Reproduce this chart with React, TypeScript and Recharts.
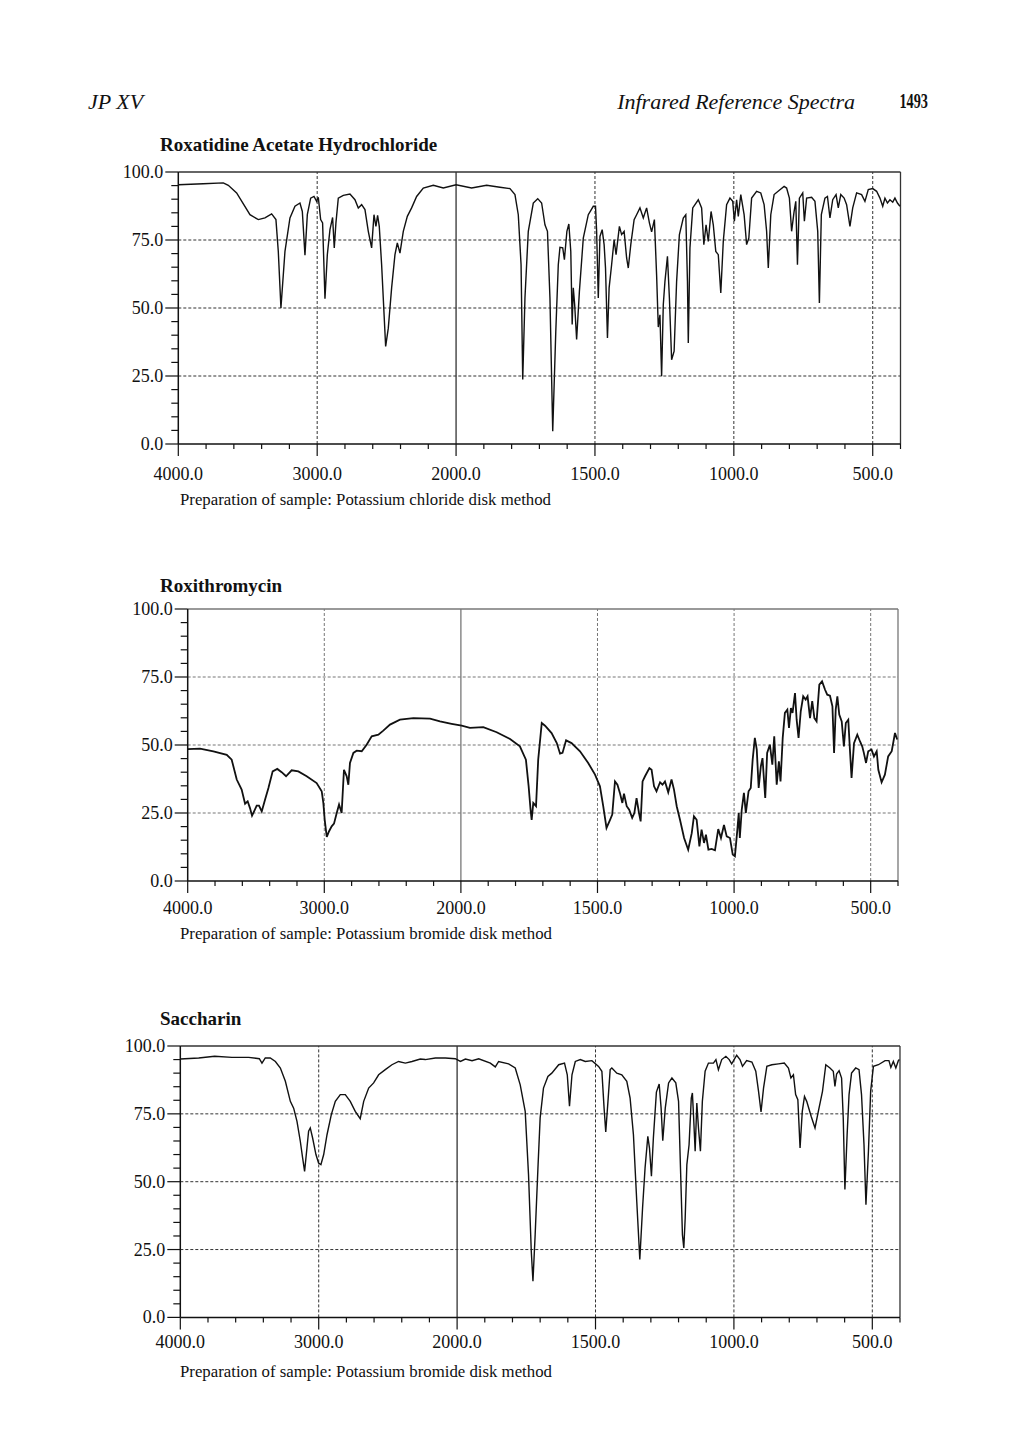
import { LineChart, Line, XAxis, YAxis, ReferenceLine } from 'recharts'

// wavenumber axis: 4000-2000 at half the scale of 2000-400
const toPos = (wn: number) => (wn >= 2000 ? (4000 - wn) / 2 : 1000 + (2000 - wn))
const fromPos = (p: number) => (p <= 1000 ? 4000 - 2 * p : 2000 - (p - 1000))

const xLabels = [4000, 3000, 2000, 1500, 1000, 500]
const xTicks = [
  4000, 3800, 3600, 3400, 3200, 3000, 2800, 2600, 2400, 2200, 2000, 1900, 1800, 1700, 1600, 1500,
  1400, 1300, 1200, 1100, 1000, 900, 800, 700, 600, 500, 400,
]
const yLabels = [0, 25, 50, 75, 100]
const yTicks = [0, 5, 10, 15, 20, 25, 30, 35, 40, 45, 50, 55, 60, 65, 70, 75, 80, 85, 90, 95, 100]
const dashedX = [3000, 1500, 1000, 500]
const dashedY = [25, 50, 75]

const roxatidineWn = [
  4000, 3820, 3676, 3640, 3580, 3484, 3424, 3376, 3328, 3297, 3280, 3261, 3232, 3196, 3160, 3124,
  3107, 3088, 3071, 3047, 3023, 3004, 2992, 2975, 2961, 2944, 2927, 2908, 2889, 2877, 2865, 2848,
  2812, 2764, 2728, 2704, 2680, 2656, 2632, 2608, 2591, 2577, 2565, 2553, 2536, 2507, 2488, 2464,
  2440, 2423, 2404, 2380, 2351, 2320, 2284, 2236, 2164, 2092, 2000, 1944, 1890, 1842, 1806, 1788,
  1776, 1766, 1760, 1752, 1740, 1722, 1706, 1692, 1680, 1671, 1662, 1652, 1641, 1632, 1626, 1616,
  1610, 1601, 1594, 1587, 1582, 1578, 1573, 1566, 1556, 1542, 1524, 1506, 1498, 1494, 1488, 1482,
  1474, 1467, 1462, 1455, 1449, 1440, 1431, 1424, 1412, 1404, 1395, 1386, 1380, 1371, 1359, 1350,
  1338, 1326, 1314, 1304, 1296, 1286, 1278, 1272, 1266, 1260, 1254, 1248, 1239, 1232, 1224, 1215,
  1206, 1196, 1182, 1173, 1167, 1164, 1158, 1148, 1128, 1116, 1108, 1100, 1092, 1082, 1074, 1065,
  1056, 1047, 1038, 1026, 1014, 1004, 998, 990, 984, 975, 963, 954, 946, 936, 918, 903, 891, 882,
  876, 867, 855, 834, 819, 810, 800, 792, 783, 777, 771, 764, 752, 746, 738, 720, 708, 698, 692,
  685, 672, 663, 654, 644, 632, 624, 615, 603, 594, 582, 572, 558, 540, 528, 516, 500, 486, 474,
  464, 456, 447, 438, 428, 420, 411, 402,
]
const roxatidineT = [
  95.3, 95.7, 96, 95.1, 92.3, 84.3, 82.5, 83.1, 84.6, 82.5, 70.8, 50.0, 70.8, 83.1, 87.4, 88.6,
  85.5, 69.4, 84.3, 90.4, 91, 89.2, 90.7, 82.5, 81.3, 53.4, 69.6, 78.8, 83.3, 72.1, 81.3, 90.4,
  91.4, 91.9, 89.8, 86.8, 88, 86.2, 78.2, 72.1, 84.3, 80, 84.1, 80, 65.9, 35.9, 42.6, 57.4,
  69.6, 73.9, 70.2, 78.2, 83.7, 86.8, 91, 94.1, 95.1, 94.1, 95.3, 94.1, 95.1, 94.4, 93.9, 91.7,
  84.3, 65.9, 23.7, 53.7, 78.2, 88.6, 90.2, 88.6, 80.6, 78.2, 53.7, 4.7, 41.4, 65.9, 72.3, 72.1,
  67.8, 78.2, 80.9, 70.8, 43.9, 57.4, 51.2, 38.4, 56.1, 75.7, 84.3, 87.4, 87.4, 78.2, 53.7, 76.3,
  78.8, 73.3, 64.7, 39, 57.4, 65.9, 75.1, 69.6, 80, 77, 78.2, 68.4, 64.7, 73.3, 82.5, 84.3,
  86.8, 83.1, 86.8, 81.3, 78, 82.5, 62, 43, 47.5, 24.9, 51.2, 59.8, 69, 53.7, 31, 34.1,
  59.8, 77, 83.1, 84.3, 59.8, 37.1, 72.1, 86.8, 89.8, 86.8, 73.3, 80.6, 74.5, 85.5, 80.6, 70.8,
  69.6, 55.5, 74.5, 88, 90.4, 89.2, 81.9, 89.8, 83.7, 91.7, 84.3, 73.3, 75.7, 90.4, 92.9, 92.3, 88, 78.2,
  64.7, 84.3, 91.7, 93.5, 94.7, 94.1, 90.4, 78.2, 85.5, 89.2, 65.9, 90.4, 92.3, 81.9, 90.4, 90.7, 89.2, 78.2, 51.8,
  84.3, 90.4, 91, 83.1, 89.8, 91.7, 86.8, 91.7, 90.4, 88, 80, 86.8, 92.3, 91.7, 89.2, 93.5, 93.9, 92.9, 90.4,
  87.4, 90.4, 88.6, 89.8, 88.9, 90.4, 88.6, 87.4,
]

const roxithromycinWn = [
  4000, 3910, 3812, 3714, 3678, 3641, 3605, 3580, 3561, 3544, 3529, 3514, 3495, 3478, 3458, 3434,
  3409, 3378, 3344, 3312, 3280, 3239, 3190, 3129, 3056, 3019, 3007, 2997, 2982, 2965, 2946, 2929,
  2909, 2892, 2873, 2856, 2836, 2824, 2812, 2787, 2763, 2726, 2690, 2653, 2604, 2568, 2519, 2446,
  2348, 2226, 2153, 2068, 1997, 1967, 1918, 1869, 1820, 1784, 1762, 1752, 1745, 1741, 1735, 1725,
  1717, 1704, 1692, 1668, 1649, 1637, 1628, 1615, 1595, 1564, 1534, 1509, 1491, 1479, 1467, 1454,
  1446, 1436, 1427, 1418, 1409, 1403, 1393, 1384, 1373, 1365, 1357, 1348, 1342, 1335, 1326, 1310,
  1302, 1293, 1284, 1271, 1262, 1253, 1241, 1229, 1220, 1210, 1198, 1183, 1168, 1155, 1147, 1137,
  1127, 1119, 1110, 1103, 1094, 1082, 1070, 1058, 1048, 1037, 1027, 1015, 1005, 997, 988, 983,
  979, 972, 964, 957, 947, 939, 932, 924, 917, 910, 902, 896, 886, 879, 869, 860, 853, 844, 836,
  830, 822, 814, 805, 799, 792, 786, 777, 771, 764, 756, 747, 738, 731, 722, 714, 706, 698, 688,
  678, 667, 659, 649, 640, 634, 628, 622, 615, 606, 598, 591, 582, 576, 570, 561, 549, 539, 531,
  525, 517, 509, 497, 488, 478, 472, 460, 448, 436, 423, 411, 403,
]
const roxithromycinT = [
  48.5, 48.7, 47.7, 46.4, 44.6, 37.3, 33.6, 28.4, 29.3, 26.8, 24, 25.6, 27.7, 27.7, 25.6, 29.9,
  34.2, 40.3, 41.2, 40, 38.5, 40.7, 40.3, 38.5, 36, 33, 28.7, 22.5, 16.2, 18.3, 20.1, 21.1,
  25, 28.1, 25, 40.9, 38.5, 35.4, 43.4, 47.1, 47.9, 47.7, 50.1, 53.2, 53.8, 55.3, 57.5, 59.3,
  59.9, 59.7, 58.7, 57.8, 57.1, 56.3, 56.6, 54.7, 52.2, 49.5, 44.6, 34.8, 26.2, 22.5, 28.7, 27.5,
  44.6, 58.1, 57.1, 54.4, 50.7, 46.8, 47.1, 51.7, 50.7, 47.7, 43.4, 39.1, 34.8, 27.5, 19.5, 22.5,
  24.4, 36.6, 35.4, 32.4, 28.7, 32.1, 27.5, 26.2, 23.2, 25, 30.5, 25, 21.9, 36.6, 38.5, 41.5,
  40.9, 34.8, 33, 36.3, 35.4, 36.6, 32.6, 37.3, 33.6, 27.5, 22.5, 15.8, 11.5, 17.6, 23.8, 22.5,
  12.7, 18.9, 14, 17, 11.5, 11.8, 11.3, 19.1, 15.8, 20.6, 16.4, 15.8, 9.7, 9.1, 18.9, 25,
  15.8, 26.2, 32.4, 25, 33, 34.2, 44.6, 52.6, 48.3, 34.2, 42.2, 45.2, 30.5, 47.1, 50.1, 42.8, 53.2, 35.4, 44,
  36.6, 52.6, 61.8, 63, 56.3, 63.6, 61.8, 69.1, 59.3, 52.6, 62.4, 67.9, 66.7, 67.9, 59.9, 66.1, 59.9, 58.7, 72.2,
  73.4, 70.3, 68.5, 68.1, 64.2, 47.1, 63, 67.9, 61.2, 58.7, 49.5, 58.1, 59.3, 48.3, 37.9, 50.7, 53.8, 51.3, 49.5,
  47.1, 43.4, 47.7, 48.3, 45.8, 47.7, 40.9, 36.3, 39.1, 45.8, 47.7, 54.4, 52,
]

const saccharinWn = [
  4000, 3867, 3752, 3627, 3506, 3429, 3410, 3386, 3350, 3313, 3277, 3241, 3205, 3181, 3157, 3133,
  3116, 3102, 3085, 3073, 3061, 3044, 3020, 3001, 2984, 2964, 2940, 2909, 2880, 2844, 2808, 2772,
  2736, 2700, 2675, 2639, 2603, 2567, 2519, 2471, 2423, 2374, 2326, 2266, 2230, 2157, 2085, 2013,
  1988, 1970, 1946, 1922, 1880, 1862, 1850, 1814, 1790, 1772, 1754, 1742, 1732, 1726, 1718, 1708,
  1700, 1688, 1672, 1658, 1633, 1612, 1602, 1594, 1585, 1573, 1555, 1537, 1513, 1489, 1477, 1469,
  1463, 1455, 1447, 1441, 1423, 1405, 1387, 1375, 1363, 1351, 1340, 1330, 1321, 1311, 1305, 1298,
  1291, 1280, 1270, 1263, 1257, 1248, 1236, 1224, 1210, 1200, 1193, 1186, 1181, 1176, 1170, 1162,
  1154, 1150, 1146, 1140, 1134, 1128, 1121, 1114, 1104, 1092, 1074, 1065, 1056, 1044, 1029, 1017,
  1008, 990, 978, 969, 954, 935, 921, 911, 902, 893, 881, 863, 839, 818, 803, 794, 785, 777, 769,
  761, 753, 745, 737, 721, 707, 695, 680, 668, 653, 641, 635, 629, 620, 611, 605, 599, 591, 584,
  575, 560, 548, 539, 530, 523, 514, 506, 496, 478, 454, 440, 433, 424, 415, 406, 402,
]
const saccharinT = [
  95.2, 95.6, 96.2, 95.8, 95.8, 95.3, 93.7, 95.6, 95.6, 94.3, 91.9, 87, 79.6, 77.1, 72.2, 64.9,
  58.7, 53.8, 62.4, 68.6, 69.8, 66.1, 60, 56.9, 56.3, 60, 67.3, 74.7, 79.6, 82.1, 82.1, 79.6,
  75.9, 73.2, 79.6, 84.5, 86.4, 89.4, 91.3, 93.1, 94.3, 93.7, 94.3, 95.2, 95, 95.6, 95.6, 95.3,
  94.3, 95.2, 94.6, 95.3, 93.7, 92.3, 94.3, 93.4, 91.9, 85.7, 75.9, 52.6, 24.3, 13.3, 30.5, 55,
  73.5, 84.5, 88.8, 90, 93.1, 93.7, 89.4, 77.8, 89.4, 94.3, 95, 94.3, 94.6, 92.5, 90.7, 77.1,
  68.3, 79.6, 91.3, 91.9, 90, 89.4, 87, 80.8, 67.3, 42.8, 21.3, 40.3, 55, 66.7, 62.4, 52,
  66, 83, 86, 77.1, 65.1, 77.1, 86.4, 88.2, 86.4, 79.6, 55, 30.5, 25.6, 36.6, 56.3, 63.6,
  80.8, 82.7, 74.7, 61.2, 79, 69.8, 61.2, 79.6, 90.7, 93.7, 93.7, 95, 91.3, 95, 96.2, 95,
  93.4, 96.6, 95, 92.5, 94.6, 94.1, 90.7, 83.3, 75.7, 84.5, 92.5, 93.1, 93.4, 93.7, 91.9, 88.2, 89.4, 82.1, 80.2,
  62.4, 75.9, 81.4, 79.6, 74.1, 69.8, 75.9, 83.3, 93.1, 91.9, 90.7, 85.1, 89.7, 90.9, 88.2, 73.5, 47.1, 67.3, 82.1,
  90, 91.9, 91.3, 82.1, 63.6, 41.5, 61.2, 83.3, 92.5, 93.1, 94.6, 94.6, 92.1, 94.3, 91.9, 94.6, 95,
]

const serif = "'Liberation Serif', 'Times New Roman', serif"
const ink = '#111'

type Box = { left: number; right: number; top: number; bottom: number }

function Spectrum({
  wn,
  t,
  box,
  labelGap,
  gridColor,
  lineWidth,
}: {
  wn: number[]
  t: number[]
  box: Box
  labelGap: number
  gridColor: string
  lineWidth: number
}) {
  const data = wn.map((w, i) => ({ pos: toPos(w), t: t[i] }))
  const yAxisWidth = 70
  const xAxisHeight = 50
  const padTop = 10
  const plotH = box.bottom - box.top

  const XTick = (p: any) => {
    const w = fromPos(p.payload.value)
    const major = xLabels.includes(w)
    return (
      <g>
        <line x1={p.x} x2={p.x} y1={p.y} y2={p.y + (major ? 12 : 5)} stroke={ink} strokeWidth={1.2} />
        {major && (
          <text x={p.x} y={p.y + labelGap} textAnchor='middle' dominantBaseline='central' fontFamily={serif} fontSize={18} fill={ink}>
            {w.toFixed(1)}
          </text>
        )}
      </g>
    )
  }

  const YTick = (p: any) => {
    const v = p.payload.value
    const major = yLabels.includes(v)
    return (
      <g>
        <line x1={p.x} x2={p.x - (major ? 13 : 7)} y1={p.y} y2={p.y} stroke={ink} strokeWidth={1.2} />
        {major && (
          <text x={p.x - 15} y={p.y} textAnchor='end' dominantBaseline='central' fontFamily={serif} fontSize={18} fill={ink}>
            {v.toFixed(1)}
          </text>
        )}
      </g>
    )
  }

  return (
    <div style={{ position: 'absolute', left: 0, top: box.top - padTop }}>
      <LineChart
        width={1020}
        height={plotH + padTop + xAxisHeight}
        data={data}
        margin={{ top: padTop, bottom: 0, left: box.left - yAxisWidth, right: 1020 - box.right }}
      >
        <XAxis
          dataKey='pos'
          type='number'
          domain={[0, 2600]}
          ticks={xTicks.map(toPos)}
          interval={0}
          height={xAxisHeight}
          tickSize={0}
          tickMargin={0}
          tick={XTick}
          axisLine={{ stroke: ink, strokeWidth: 1.5 }}
        />
        <YAxis
          type='number'
          domain={[0, 100]}
          ticks={yTicks}
          interval={0}
          width={yAxisWidth}
          tickSize={0}
          tickMargin={0}
          tick={YTick}
          axisLine={{ stroke: ink, strokeWidth: 1.5 }}
        />
        {dashedY.map((v) => (
          <ReferenceLine key={'y' + v} y={v} stroke={gridColor} strokeDasharray='3 2' strokeWidth={1} />
        ))}
        {dashedX.map((v) => (
          <ReferenceLine key={'x' + v} x={toPos(v)} stroke={gridColor} strokeDasharray='3 2' strokeWidth={1} />
        ))}
        <ReferenceLine x={toPos(2000)} stroke={gridColor} strokeWidth={1.3} />
        <ReferenceLine y={100} stroke={gridColor} strokeWidth={1.3} />
        <ReferenceLine x={toPos(400)} stroke={gridColor} strokeWidth={1.3} />
        <Line
          type='linear'
          dataKey='t'
          stroke={ink}
          strokeWidth={lineWidth}
          dot={false}
          isAnimationActive={false}
        />
      </LineChart>
    </div>
  )
}

function Txt({
  x,
  cy,
  size,
  children,
  bold,
  italic,
  align,
  squeeze,
}: {
  x: number
  cy: number
  size: number
  children: string
  bold?: boolean
  italic?: boolean
  align?: 'right'
  squeeze?: number
}) {
  return (
    <div
      style={{
        position: 'absolute',
        top: cy - size * 0.55,
        ...(align === 'right' ? { right: 1020 - x } : { left: x }),
        fontFamily: serif,
        fontSize: size,
        lineHeight: 1,
        fontWeight: bold ? 'bold' : 'normal',
        fontStyle: italic ? 'italic' : 'normal',
        color: ink,
        whiteSpace: 'nowrap',
        transform: squeeze ? `scaleX(${squeeze})` : undefined,
        transformOrigin: align === 'right' ? 'right center' : 'left center',
      }}
    >
      {children}
    </div>
  )
}

export default function App() {
  return (
    <div style={{ position: 'absolute', left: 0, top: 0, width: 1020, height: 1443, background: '#fff' }}>
      <Txt x={88} cy={103} size={22} italic>
        JP XV
      </Txt>
      <Txt x={855} cy={103} size={22} italic align='right'>
        Infrared Reference Spectra
      </Txt>
      <Txt x={928} cy={103} size={21} bold align='right' squeeze={0.68}>
        1493
      </Txt>

      <Txt x={160} cy={145} size={19} bold>
        Roxatidine Acetate Hydrochloride
      </Txt>
      <Spectrum
        wn={roxatidineWn}
        t={roxatidineT}
        box={{ left: 178.3, right: 900.5, top: 172.3, bottom: 444.3 }}
        labelGap={30}
        gridColor='#333'
        lineWidth={1.4}
      />
      <Txt x={180} cy={501} size={16.8}>
        Preparation of sample: Potassium chloride disk method
      </Txt>

      <Txt x={160} cy={586} size={19} bold>
        Roxithromycin
      </Txt>
      <Spectrum
        wn={roxithromycinWn}
        t={roxithromycinT}
        box={{ left: 187.7, right: 898, top: 609.3, bottom: 881.3 }}
        labelGap={27}
        gridColor='#777'
        lineWidth={1.8}
      />
      <Txt x={180} cy={935} size={16.8}>
        Preparation of sample: Potassium bromide disk method
      </Txt>

      <Txt x={160} cy={1019} size={19} bold>
        Saccharin
      </Txt>
      <Spectrum
        wn={saccharinWn}
        t={saccharinT}
        box={{ left: 180.3, right: 900, top: 1046.3, bottom: 1317.7 }}
        labelGap={25}
        gridColor='#333'
        lineWidth={1.4}
      />
      <Txt x={180} cy={1373} size={16.8}>
        Preparation of sample: Potassium bromide disk method
      </Txt>
    </div>
  )
}
